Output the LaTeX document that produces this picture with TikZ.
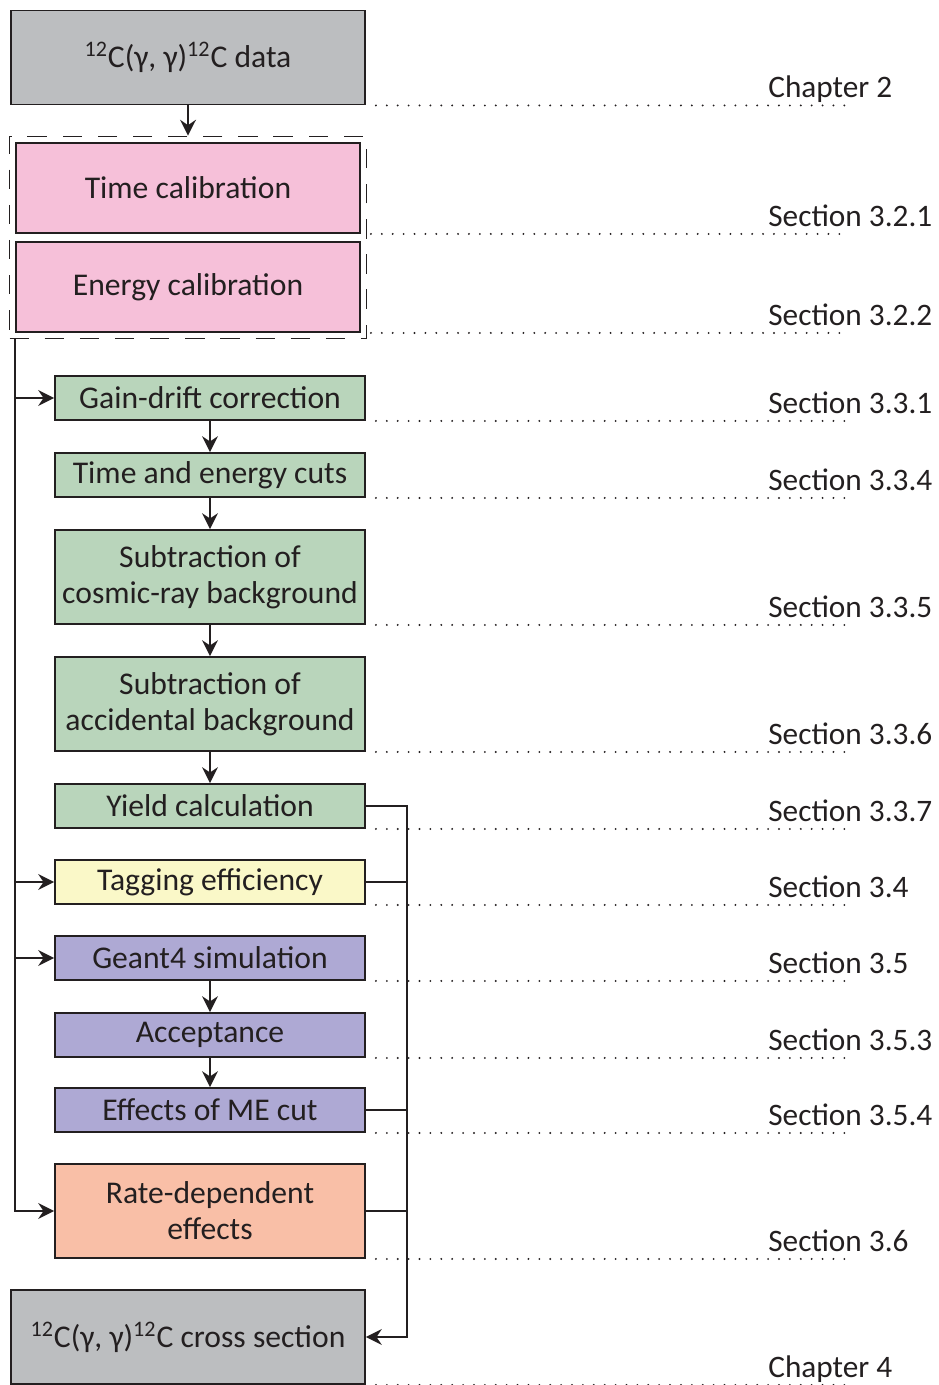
\documentclass[tikz,border=0pt]{standalone}
\usepackage{fontspec}
\setmainfont{Carlito}
\usetikzlibrary{arrows.meta,fit,calc}
\definecolor{datagray}{HTML}{BCBEC0}
\definecolor{calpink}{HTML}{F6C0D9}
\definecolor{corrgreen}{HTML}{B9D5BB}
\definecolor{tagyellow}{HTML}{FAF8C8}
\definecolor{simpurple}{HTML}{AEA9D4}
\definecolor{ratesalmon}{HTML}{F9BFA7}
\definecolor{inkcol}{HTML}{231F20}
\tikzset{>={Stealth[length=9pt,width=9pt,inset=3pt]}}
\tikzset{box/.style = {draw=inkcol, line width=1.1pt, inner sep=0pt, align=center,
                       text=inkcol, font=\fontsize{18}{20.5}\selectfont}}
\tikzset{stepbox/.style = {box, minimum width=6.2cm, minimum height=0.88cm}}
\tikzset{tallbox/.style = {stepbox, minimum height=1.88cm}}
\tikzset{endbox/.style = {box, fill=datagray, minimum width=7.08cm, minimum height=1.88cm}}
\tikzset{calbox/.style = {box, fill=calpink, minimum width=6.88cm, minimum height=1.8cm}}
\tikzset{dotline/.style = {inkcol, line width=1.2pt, line cap=round, dash pattern=on 0pt off 6.2pt}}
\tikzset{seclabel/.style = {anchor=base west, inner sep=0pt, text=inkcol, yshift=0.15cm,
                            font=\fontsize{17.8}{20.5}\selectfont}}
\tikzset{conn/.style = {inkcol, line width=1.1pt}}

\begin{document}
\begin{tikzpicture}[x=0.02cm, y=-0.02cm]
    \useasboundingbox (0,0) rectangle (938,1385);

    \node[endbox] (data) at (188,57.5) {\textsuperscript{12}C(γ, γ)\textsuperscript{12}C data};
    \node[calbox] (tcal) at (188,188) {Time calibration};
    \node[calbox] (ecal) at (188,287) {Energy calibration};
    \node[draw=inkcol, line width=1pt, dash pattern=on 11pt off 9pt, inner sep=0.11cm,
          fit=(tcal)(ecal)] (calib) {};

    \node[stepbox, fill=corrgreen] (gain) at (210,398) {Gain-drift correction};
    \node[stepbox, fill=corrgreen] (cuts) at (210,475) {Time and energy cuts};
    \node[tallbox, fill=corrgreen] (cosmic) at (210,577) {Subtraction of\\cosmic-ray background};
    \node[tallbox, fill=corrgreen] (accid) at (210,704) {Subtraction of\\accidental background};
    \node[stepbox, fill=corrgreen] (yield) at (210,806) {Yield calculation};
    \node[stepbox, fill=tagyellow] (tag) at (210,882) {Tagging efficiency};
    \node[stepbox, fill=simpurple] (geant) at (210,958) {Geant4 simulation};
    \node[stepbox, fill=simpurple] (accept) at (210,1035) {Acceptance};
    \node[stepbox, fill=simpurple] (mecut) at (210,1110) {Effects of ME cut};
    \node[tallbox, fill=ratesalmon] (rate) at (210,1211) {Rate-dependent\\effects};
    \node[endbox] (xsec) at (188,1337) {\textsuperscript{12}C(γ, γ)\textsuperscript{12}C cross section};

    % section references
    \coordinate (dotend) at (845,0);
    \coordinate (labx) at (768,0);
    \foreach \n/\t in {data/Chapter 2, tcal/Section 3.2.1, ecal/Section 3.2.2,
                       gain/Section 3.3.1, cuts/Section 3.3.4, cosmic/Section 3.3.5,
                       accid/Section 3.3.6, yield/Section 3.3.7, tag/Section 3.4,
                       geant/Section 3.5, accept/Section 3.5.3, mecut/Section 3.5.4,
                       rate/Section 3.6, xsec/Chapter 4}{
        \draw[dotline] ($(\n.south east)+(10,0)$) -- (\n.south east -| dotend);
        \node[seclabel] (\n-lab) at (\n.south east -| labx) {\t};
    }

    % flow
    \draw[conn, ->] (data) -- (calib);
    \coordinate (lstart) at (ecal.west |- calib.south);
    \draw[conn, ->] (lstart) |- (gain.west);
    \draw[conn, ->] (lstart) |- (tag.west);
    \draw[conn, ->] (lstart) |- (geant.west);
    \draw[conn, ->] (lstart) |- (rate.west);

    \draw[conn, ->] (gain) -- (cuts);
    \draw[conn, ->] (cuts) -- (cosmic);
    \draw[conn, ->] (cosmic) -- (accid);
    \draw[conn, ->] (accid) -- (yield);
    \draw[conn, ->] (geant) -- (accept);
    \draw[conn, ->] (accept) -- (mecut);

    \coordinate (rx) at (407,0);
    \draw[conn, ->] (yield.east) -| (rx |- xsec.east) -- (xsec.east);
    \draw[conn] (tag.east) -- (tag.east -| rx);
    \draw[conn] (mecut.east) -- (mecut.east -| rx);
    \draw[conn] (rate.east) -- (rate.east -| rx);
\end{tikzpicture}
\end{document}
